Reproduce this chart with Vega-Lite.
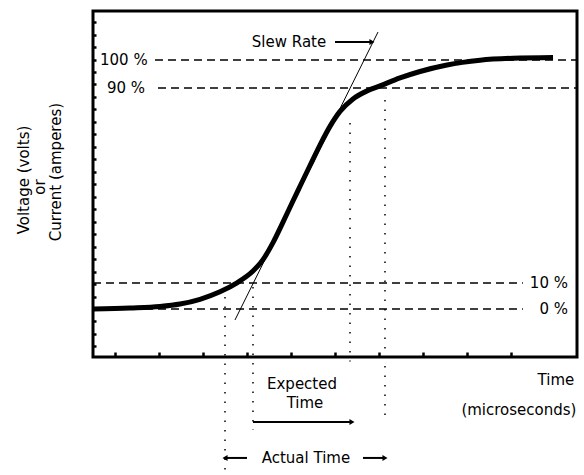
{
  "$schema": "https://vega.github.io/schema/vega-lite/v6.json",
  "width": 484,
  "height": 346,
  "autosize": {"type": "none"},
  "padding": {"left": 93, "top": 11, "right": 7, "bottom": 118},
  "background": "white",
  "config": {
    "view": {"stroke": "black", "strokeWidth": 3},
    "font": "DejaVu Sans"
  },
  "datasets": {
    "curve": [
      {"x": 0.5, "y": 0}, {"x": 1.341, "y": 0.4}, {"x": 2.023, "y": 1.0}, {"x": 2.477, "y": 2.0},
      {"x": 2.932, "y": 3.9}, {"x": 3.386, "y": 6.9}, {"x": 3.773, "y": 10.5}, {"x": 4.136, "y": 15.2},
      {"x": 4.364, "y": 19.8}, {"x": 4.591, "y": 26.6}, {"x": 4.818, "y": 34.8}, {"x": 5.023, "y": 42.5},
      {"x": 5.205, "y": 49.2}, {"x": 5.432, "y": 57.5}, {"x": 5.659, "y": 65.7}, {"x": 5.886, "y": 73.2},
      {"x": 6.114, "y": 79.2}, {"x": 6.409, "y": 84.2}, {"x": 6.727, "y": 87.4}, {"x": 7.023, "y": 89.4},
      {"x": 7.477, "y": 92.6}, {"x": 7.932, "y": 95.2}, {"x": 8.545, "y": 97.8}, {"x": 9.295, "y": 99.7},
      {"x": 10.045, "y": 100.5}, {"x": 10.955, "y": 100.8}
    ],
    "hlines": [
      {"x": 1.909, "x2": 11.5, "y": 99.8},
      {"x": 1.977, "x2": 11.5, "y": 88.6},
      {"x": 0.5, "x2": 10.27, "y": 10.4},
      {"x": 0.5, "x2": 10.27, "y": 0}
    ],
    "vlines": [
      {"x": 3.5, "y": 4.8, "y2": -67},
      {"x": 4.136, "y": 8.8, "y2": -48.5},
      {"x": 6.341, "y": 74.5, "y2": -21},
      {"x": 7.136, "y": 83.8, "y2": -45.3}
    ],
    "slew": [
      {"x": 3.727, "y": -4.4, "x2": 6.977, "y2": 111.0}
    ],
    "arrows": [
      {"x": 6.0, "x2": 6.84, "y": 107.0},
      {"x": 4.136, "x2": 6.386, "y": -45.3},
      {"x": 3.5, "x2": 4.0, "y": -59.7},
      {"x": 6.636, "x2": 7.136, "y": -59.7}
    ],
    "headsRight": [
      {"x": 6.84, "y": 107.0},
      {"x": 6.386, "y": -45.3},
      {"x": 7.136, "y": -59.7}
    ],
    "headsLeft": [
      {"x": 3.5, "y": -59.7}
    ],
    "labelsLeft": [
      {"x": 0.659, "y": 99.8, "t": "100 %"},
      {"x": 0.818, "y": 88.6, "t": "90 %"}
    ],
    "labelsRight": [
      {"x": 11.295, "y": 10.4, "t": "10 %"},
      {"x": 11.295, "y": 0, "t": "0 %"}
    ],
    "labelsCenter": [
      {"x": 4.955, "y": 107.0, "t": "Slew Rate"},
      {"x": 5.25, "y": -30.1, "t": "Expected"},
      {"x": 5.318, "y": -37.7, "t": "Time"},
      {"x": 5.34, "y": -59.7, "t": "Actual Time"},
      {"x": 11.02, "y": -28.5, "t": "Time"},
      {"x": 10.18, "y": -40.5, "t": "(microseconds)"}
    ],
    "ytitle": [
      {"x": -1.068, "y": 51.7, "t": "Voltage (volts)"},
      {"x": -0.705, "y": 48.9, "t": "or"},
      {"x": -0.341, "y": 54.9, "t": "Current (amperes)"}
    ]
  },
  "encoding": {
    "x": {
      "field": "x", "type": "quantitative",
      "scale": {"domain": [0.5, 11.5], "nice": false, "zero": false},
      "axis": {"title": null, "domain": false, "labels": false, "grid": false,
               "values": [1, 2, 3, 4, 5, 6, 7, 8, 9, 10],
               "tickSize": -5, "tickWidth": 2.5, "tickColor": "black"}
    },
    "y": {
      "field": "y", "type": "quantitative",
      "scale": {"domain": [-19.24, 119.44], "nice": false, "zero": false},
      "axis": {"title": null, "domain": false, "labels": false, "grid": false,
               "values": [-15, -10, -5, 0, 5, 10, 15, 20, 25, 30, 35, 40, 45, 50, 55, 60, 65, 70, 75, 80, 85, 90, 95, 100, 105, 110, 115],
               "tickSize": -3, "tickWidth": 2.5, "tickColor": "black"}
    }
  },
  "layer": [
    {
      "data": {"name": "hlines"},
      "mark": {"type": "rule", "color": "black", "strokeWidth": 1.5, "strokeDash": [8, 5]},
      "encoding": {"x2": {"field": "x2"}}
    },
    {
      "data": {"name": "vlines"},
      "mark": {"type": "rule", "color": "black", "strokeWidth": 1.5, "strokeDash": [1.5, 8]},
      "encoding": {"y2": {"field": "y2"}}
    },
    {
      "data": {"name": "slew"},
      "mark": {"type": "rule", "color": "black", "strokeWidth": 1},
      "encoding": {"x2": {"field": "x2"}, "y2": {"field": "y2"}}
    },
    {
      "data": {"name": "curve"},
      "mark": {"type": "line", "color": "black", "strokeWidth": 5, "interpolate": "monotone"}
    },
    {
      "data": {"name": "arrows"},
      "mark": {"type": "rule", "color": "black", "strokeWidth": 2},
      "encoding": {"x2": {"field": "x2"}}
    },
    {
      "data": {"name": "headsRight"},
      "mark": {"type": "point", "shape": "triangle-right", "filled": true, "color": "black", "size": 35, "opacity": 1}
    },
    {
      "data": {"name": "headsLeft"},
      "mark": {"type": "point", "shape": "triangle-left", "filled": true, "color": "black", "size": 35, "opacity": 1}
    },
    {
      "data": {"name": "labelsLeft"},
      "mark": {"type": "text", "align": "left", "baseline": "middle", "fontSize": 15, "color": "black"},
      "encoding": {"text": {"field": "t"}}
    },
    {
      "data": {"name": "labelsRight"},
      "mark": {"type": "text", "align": "right", "baseline": "middle", "fontSize": 15, "color": "black"},
      "encoding": {"text": {"field": "t"}}
    },
    {
      "data": {"name": "labelsCenter"},
      "mark": {"type": "text", "align": "center", "baseline": "middle", "fontSize": 15, "color": "black"},
      "encoding": {"text": {"field": "t"}}
    },
    {
      "data": {"name": "ytitle"},
      "mark": {"type": "text", "align": "center", "baseline": "middle", "fontSize": 15, "angle": 270, "color": "black"},
      "encoding": {"text": {"field": "t"}}
    }
  ]
}
